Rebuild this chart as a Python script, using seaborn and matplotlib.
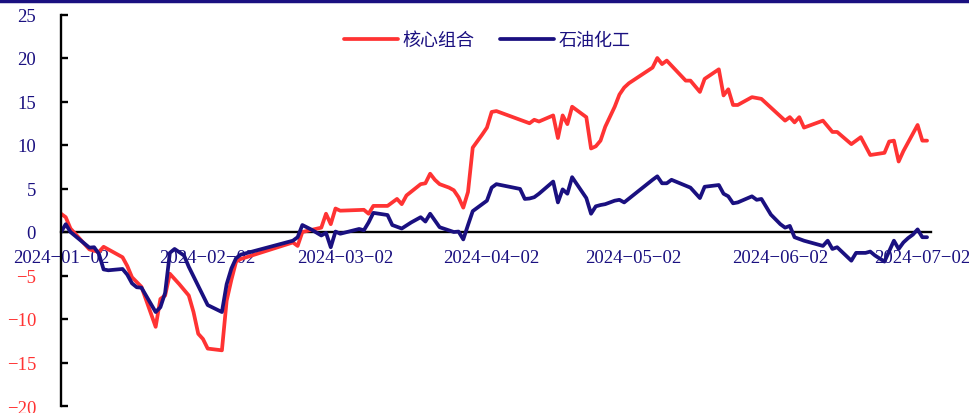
import matplotlib
matplotlib.use("Agg")
import matplotlib.pyplot as plt
import matplotlib.dates as mdates
from matplotlib.lines import Line2D
from matplotlib.ticker import FuncFormatter
import seaborn as sns
import pandas as pd

# 核心组合
red_dates = ["01-02", "01-03", "01-04", "01-08", "01-10", "01-11", "01-15", "01-16", "01-17", "01-19",
             "01-22", "01-23", "01-24", "01-25", "01-27", "01-29", "01-30", "01-31", "02-01", "02-02",
             "02-05", "02-06", "02-07", "02-08", "02-09", "02-20", "02-21", "02-22", "02-26", "02-27",
             "02-28", "02-29", "03-01", "03-06", "03-07", "03-08", "03-11", "03-13", "03-14", "03-15",
             "03-18", "03-19", "03-20", "03-21", "03-22", "03-24", "03-25", "03-26", "03-27", "03-28",
             "03-29", "03-31", "04-01", "04-02", "04-03", "04-10", "04-11", "04-12", "04-15", "04-16",
             "04-17", "04-18", "04-19", "04-22", "04-23", "04-24", "04-25", "04-26", "04-28", "04-29",
             "04-30", "05-01", "05-06", "05-07", "05-08", "05-09", "05-13", "05-14", "05-16", "05-17",
             "05-20", "05-21", "05-22", "05-23", "05-24", "05-27", "05-29", "05-31", "06-03", "06-04",
             "06-05", "06-06", "06-07", "06-11", "06-13", "06-14", "06-17", "06-19", "06-21", "06-24",
             "06-25", "06-26", "06-27", "06-28", "07-01", "07-02", "07-03"]
red_vals = [2.1, 1.7, 0.4, -2.0, -2.3, -1.7, -2.9, -3.9, -5.2, -6.3,
            -10.9, -7.7, -7.3, -4.8, -6.0, -7.3, -9.2, -11.7, -12.3, -13.4,
            -13.6, -7.9, -5.5, -3.4, -3.1, -1.2, -1.6, 0.0, 0.5, 2.1,
            0.9, 2.7, 2.45, 2.55, 2.1, 3.0, 3.0, 3.8, 3.2, 4.2,
            5.5, 5.6, 6.7, 6.0, 5.5, 5.1, 4.8, 4.0, 2.8, 4.6,
            9.7, 11.2, 12.0, 13.8, 13.9, 12.5, 12.9, 12.7, 13.4, 10.8,
            13.4, 12.4, 14.4, 13.2, 9.6, 9.85, 10.5, 12.1, 14.4, 15.8,
            16.6, 17.1, 18.9, 20.0, 19.3, 19.7, 17.4, 17.4, 16.1, 17.6,
            18.7, 15.7, 16.4, 14.6, 14.6, 15.5, 15.3, 14.3, 12.8, 13.2,
            12.6, 13.2, 12.0, 12.8, 11.5, 11.5, 10.1, 10.9, 8.85, 9.1,
            10.4, 10.5, 8.1, 9.3, 12.3, 10.5, 10.5]

# 石油化工
navy_dates = ["01-02", "01-03", "01-04", "01-08", "01-09", "01-10", "01-11", "01-12", "01-15", "01-16",
              "01-17", "01-18", "01-19", "01-22", "01-23", "01-24", "01-25", "01-26", "01-28", "01-29",
              "02-02", "02-05", "02-06", "02-07", "02-08", "02-09", "02-20", "02-21", "02-22", "02-24",
              "02-26", "02-27", "02-28", "02-29", "03-01", "03-05", "03-06", "03-07", "03-08", "03-11",
              "03-12", "03-13", "03-14", "03-16", "03-18", "03-19", "03-20", "03-22", "03-25", "03-26",
              "03-27", "03-28", "03-29", "03-31", "04-01", "04-02", "04-03", "04-08", "04-09", "04-10",
              "04-11", "04-12", "04-15", "04-16", "04-17", "04-18", "04-19", "04-22", "04-23", "04-24",
              "04-25", "04-26", "04-28", "04-29", "04-30", "05-06", "05-07", "05-08", "05-09", "05-10",
              "05-14", "05-16", "05-17", "05-20", "05-21", "05-22", "05-23", "05-24", "05-27", "05-28",
              "05-29", "05-31", "06-02", "06-03", "06-04", "06-05", "06-07", "06-11", "06-12", "06-13",
              "06-14", "06-17", "06-18", "06-20", "06-21", "06-22", "06-24", "06-26", "06-27", "06-28",
              "06-29", "06-30", "07-01", "07-02", "07-03"]
navy_vals = [0.0, 0.9, 0.0, -1.8, -1.75, -2.5, -4.3, -4.4, -4.25, -4.9,
             -5.9, -6.35, -6.4, -9.2, -8.65, -7.0, -2.4, -1.95, -2.7, -4.0,
             -8.4, -9.2, -6.0, -4.2, -3.0, -2.6, -1.0, -0.6, 0.8, 0.25,
             -0.4, -0.1, -1.75, 0.05, -0.2, 0.35, 0.2, 1.1, 2.2, 1.95,
             0.8, 0.6, 0.4, 1.1, 1.7, 1.2, 2.1, 0.55, 0.0, 0.05,
             -0.85, 0.8, 2.4, 3.2, 3.6, 5.1, 5.5, 4.95, 3.8, 3.85,
             4.0, 4.4, 5.8, 3.4, 4.9, 4.4, 6.3, 3.9, 2.1, 2.95,
             3.1, 3.2, 3.6, 3.7, 3.4, 6.0, 6.4, 5.6, 5.6, 6.0,
             5.1, 3.9, 5.2, 5.4, 4.4, 4.1, 3.3, 3.4, 4.1, 3.7,
             3.8, 2.0, 0.9, 0.5, 0.7, -0.6, -1.0, -1.6, -1.0, -1.95,
             -1.75, -3.3, -2.4, -2.4, -2.25, -2.7, -3.4, -1.0, -1.95, -1.2,
             -0.7, -0.3, 0.3, -0.6, -0.6]

series_names = ["核心组合", "石油化工"]
tick_dates = ["2024-01-02", "2024-02-02", "2024-03-02", "2024-04-02",
              "2024-05-02", "2024-06-02", "2024-07-02"]
y_ticks = [-20, -15, -10, -5, 0, 5, 10, 15, 20, 25]

RED = "#FF3333"
NAVY = "#1A1080"

df = pd.concat([
    pd.DataFrame({"date": pd.to_datetime(["2024-" + d for d in red_dates]),
                  "value": red_vals, "series": series_names[0]}),
    pd.DataFrame({"date": pd.to_datetime(["2024-" + d for d in navy_dates]),
                  "value": navy_vals, "series": series_names[1]}),
])

sns.set_theme(style="white")
plt.rcParams["font.family"] = ["Liberation Serif", "Noto Sans CJK SC", "DejaVu Sans"]
plt.rcParams["axes.unicode_minus"] = True

fig = plt.figure(figsize=(9.69, 4.14), dpi=100)
ax = fig.add_axes([61 / 969, 1 - 407 / 414, (931 - 61) / 969, (407 - 15.5) / 414])

sns.lineplot(data=df, x="date", y="value", hue="series", hue_order=series_names,
             palette=[RED, NAVY], linewidth=2.7, estimator=None, sort=False, ax=ax)

ax.set_ylim(-20, 25)
ax.set_xlim(mdates.date2num(pd.Timestamp("2024-01-02")), mdates.date2num(pd.Timestamp("2024-07-03 20:00")))
ax.set_xlabel("")
ax.set_ylabel("")

# spines
for s in ["top", "right"]:
    ax.spines[s].set_visible(False)
ax.spines["bottom"].set_position(("data", 0))
ax.spines["bottom"].set_color("black")
ax.spines["bottom"].set_linewidth(1.7)
ax.spines["left"].set_color("black")
ax.spines["left"].set_linewidth(1.7)
ax.spines["bottom"].set_zorder(1)

# ticks
ax.set_xticks([mdates.date2num(pd.Timestamp(t)) for t in tick_dates])
ax.xaxis.set_major_formatter(FuncFormatter(lambda v, p: mdates.num2date(v).strftime("%Y-%m-%d").replace("-", "\u2212")))
ax.set_yticks(y_ticks)
ax.yaxis.set_major_formatter(FuncFormatter(lambda v, p: ("\u2212%d" % abs(v)) if v < 0 else "%d" % v))
ax.tick_params(axis="x", direction="in", length=5, width=1.7, color="black",
               labelsize=13.5, labelcolor=NAVY, pad=12)
ax.tick_params(axis="y", direction="in", length=5, width=1.7, color="black",
               labelsize=13.5, pad=18, left=True)
for lab, v in zip(ax.get_yticklabels(), y_ticks):
    lab.set_color(RED if v < 0 else NAVY)

# legend
leg = ax.legend(loc="center", bbox_to_anchor=(0.49, 0.935), ncol=2, frameon=False,
                handlelength=3.0, handletextpad=0.25, columnspacing=1.4,
                prop={"family": ["Noto Sans CJK SC"], "size": 13})
for t in leg.get_texts():
    t.set_color(NAVY)
for h in leg.get_lines():
    h.set_linewidth(2.7)

# top border line
fig.add_artist(Line2D([0, 1], [1 - 2 / 414, 1 - 2 / 414], transform=fig.transFigure,
                      color=NAVY, linewidth=3.2))

fig.savefig("out.png", dpi=100)
